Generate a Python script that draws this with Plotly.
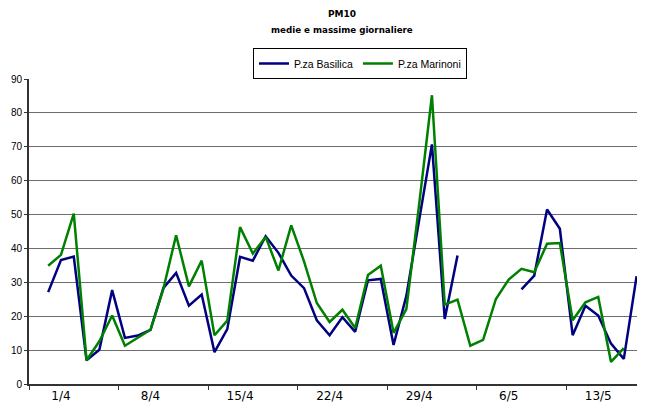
import plotly.graph_objects as go

dates = ["30/3", "31/3"] + [f"{d}/4" for d in range(1, 31)] + [f"{d}/5" for d in range(1, 17)]

basilica = [None, 27.1, 36.6, 37.6, 7.0, 10.1, 27.7, 13.6, 14.3, 16.0,
            28.3, 32.8, 23.1, 26.4, 9.4, 16.2, 37.5, 36.4, 43.6, 38.7,
            32.0, 28.3, 18.8, 14.4, 19.7, 15.4, 30.6, 31.0, 11.5, 26.0,
            49.0, 70.7, 19.2, 37.9, None, None, None, None, 27.9, 32.0,
            51.5, 45.8, 14.4, 23.1, 20.2, 11.9, 7.4, 31.8]

marinoni = [None, 34.9, 38.1, 50.3, 7.0, 12.6, 20.2, 11.3, 13.6, 16.0,
            28.0, 43.9, 28.8, 36.4, 14.4, 18.7, 46.3, 38.5, 43.4, 33.5,
            46.8, 36.2, 23.9, 18.3, 21.9, 16.5, 32.2, 34.9, 15.1, 22.1,
            53.0, 85.2, 23.4, 24.9, 11.3, 13.0, 25.1, 30.8, 34.0, 33.0,
            41.4, 41.6, 18.8, 24.1, 25.7, 6.5, 10.6, None]

tick_labels = ["1/4", "8/4", "15/4", "22/4", "29/4", "6/5", "13/5"]

x = list(range(len(dates)))

fig = go.Figure()
fig.add_trace(go.Scatter(x=x, y=basilica, mode="lines", name="P.za Basilica",
                         line=dict(color="#000080", width=2.5), connectgaps=False,
                         text=dates))
fig.add_trace(go.Scatter(x=x, y=marinoni, mode="lines", name="P.za Marinoni",
                         line=dict(color="#008000", width=2.5), connectgaps=False,
                         text=dates))

# page body adds an 8px margin around the figure
OFF = 8
W, H = 645 - OFF, 402 - OFF
PLOT_LEFT, PLOT_RIGHT = 29, 643
PLOT_TOP, PLOT_BOTTOM = 79, 384
PLOT_H = PLOT_BOTTOM - PLOT_TOP
PLOT_W = PLOT_RIGHT - PLOT_LEFT

fig.update_layout(
    width=W, height=H,
    margin=dict(l=PLOT_LEFT - OFF, r=645 - PLOT_RIGHT, t=PLOT_TOP - OFF,
                b=402 - PLOT_BOTTOM, autoexpand=False),
    paper_bgcolor="white", plot_bgcolor="white",
    font=dict(family="DejaVu Sans", color="black"),
    showlegend=True,
    legend=dict(orientation="h", x=(360 - PLOT_LEFT) / PLOT_W, xanchor="center",
                y=(PLOT_BOTTOM - 48) / PLOT_H, yanchor="top",
                bordercolor="black", borderwidth=1, bgcolor="white",
                font=dict(family="Liberation Sans", size=10.5),
                itemwidth=30, tracegroupgap=0),
    annotations=[
        dict(text="<b>PM10</b>", x=(342 - PLOT_LEFT) / PLOT_W, y=(PLOT_BOTTOM - 14) / PLOT_H,
             xref="paper", yref="paper", yanchor="middle",
             showarrow=False, font=dict(family="DejaVu Sans", size=9)),
        dict(text="<b>medie e massime giornaliere</b>", x=(342 - PLOT_LEFT) / PLOT_W,
             y=(PLOT_BOTTOM - 30) / PLOT_H, xref="paper", yref="paper",
             yanchor="middle", showarrow=False,
             font=dict(family="DejaVu Sans", size=8.7)),
    ],
)

fig.update_xaxes(
    range=[-0.5, len(dates) - 0.5],
    tickmode="array",
    tickvals=[dates.index(t) for t in tick_labels],
    ticktext=tick_labels,
    ticks="",
    showgrid=False,
    showline=True, linecolor="#333333", linewidth=2,
    tickfont=dict(family="DejaVu Sans", size=12),
    minor=dict(tick0=-0.5, dtick=7, ticks="outside", ticklen=4, tickcolor="#333333",
               tickwidth=1, showgrid=False),
    zeroline=False, automargin=False,
)
fig.update_yaxes(
    range=[0, 90], dtick=10,
    showgrid=True, gridcolor="#6e6e6e", gridwidth=1,
    showline=True, linecolor="#333333", linewidth=2,
    ticks="outside", ticklen=3, tickcolor="#333333",
    tickfont=dict(family="Liberation Sans", size=10),
    zeroline=False, automargin=False,
)

fig.write_html("out.html")
